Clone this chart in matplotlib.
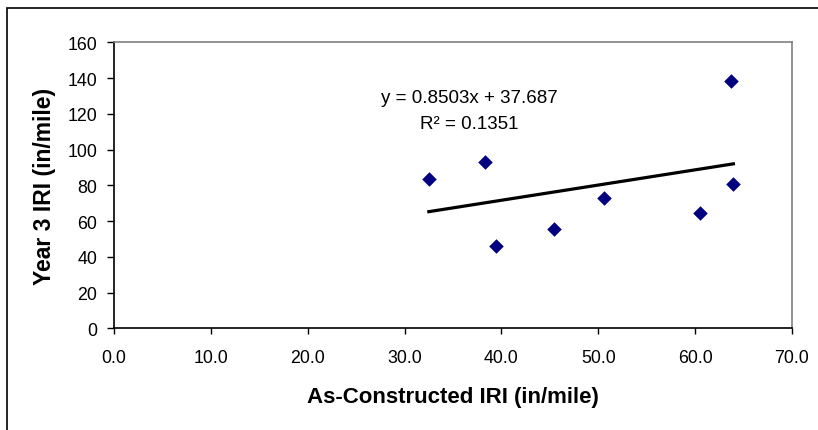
import numpy as np
import matplotlib
matplotlib.use('Agg')
import matplotlib.pyplot as plt
from matplotlib.patches import Rectangle

# As-constructed vs year 3 IRI (in/mile)
iri_built = [32.5, 38.3, 39.4, 45.4, 50.6, 60.5, 63.7, 63.95]
iri_year3 = [83.5, 93.2, 45.9, 55.5, 73.1, 64.3, 138.3, 80.7]

# linear trendline from the fit
slope = 0.8503
intercept = 37.687
r2 = 0.1351

x_ticks = [0, 10, 20, 30, 40, 50, 60, 70]
y_ticks = [0, 20, 40, 60, 80, 100, 120, 140, 160]

plt.rcParams['font.family'] = ['Liberation Sans', 'DejaVu Sans']

fig = plt.figure(figsize=(8.18, 4.31), dpi=100)
ax = fig.add_axes([0.1394, 0.2355, 0.8288, 0.664])

ax.scatter(iri_built, iri_year3, marker='D', s=55, color='#000080', zorder=3, linewidths=0)

xl = np.array([min(iri_built), max(iri_built)])
ax.plot(xl, slope * xl + intercept, color='black', lw=2.3, zorder=2)

ax.text(36.7, 129, f'y = {slope}x + {intercept}', ha='center', va='center', fontsize=13.5)
ax.text(36.7, 114.5, f'R\u00b2 = {r2}', ha='center', va='center', fontsize=13.5)

ax.set_xlim(0, 70)
ax.set_ylim(0, 160)
ax.set_xticks(x_ticks)
ax.set_xticklabels([f'{v:.1f}' for v in x_ticks])
ax.set_yticks(y_ticks)

ax.tick_params(axis='x', direction='out', length=4, width=1, pad=11, labelsize=12.8)
ax.tick_params(axis='y', direction='out', length=5, width=1, pad=7, labelsize=12.8)

ax.spines['left'].set_color('black')
ax.spines['bottom'].set_color('black')
ax.spines['top'].set_color('#808080')
ax.spines['right'].set_color('#808080')
for s in ax.spines.values():
    s.set_linewidth(1.2)

ax.set_xlabel('As-Constructed IRI (in/mile)', fontsize=16, fontweight='bold', labelpad=14)
ax.set_ylabel('Year 3 IRI (in/mile)', fontsize=16.5, fontweight='bold', labelpad=8)

# chart frame (top and left edges visible)
fig.add_artist(Rectangle((7.3 / 818, -0.5), 2, 0.978 + 0.5, transform=fig.transFigure,
                         fill=False, edgecolor='black', lw=1.2))

fig.savefig('out.png', dpi=100)
